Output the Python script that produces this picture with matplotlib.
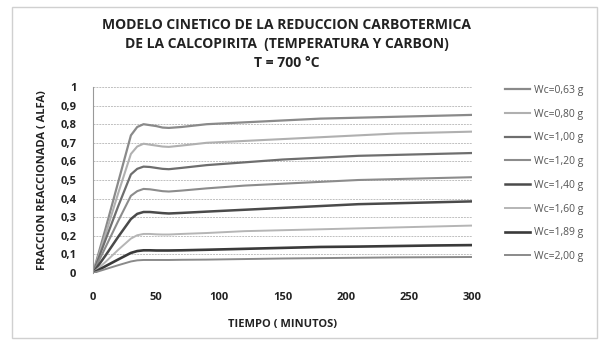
import matplotlib
matplotlib.use("Agg")
import matplotlib.pyplot as plt
from matplotlib.patches import Rectangle

plt.rcParams['font.family'] = ['Open Sans', 'DejaVu Sans']

tiempo = [0, 10, 20, 30, 35, 40, 45, 50, 55, 60, 70, 90, 120, 150, 180, 210, 240, 270, 300]
labels = ["Wc=0,63 g", "Wc=0,80 g", "Wc=1,00 g", "Wc=1,20 g",
          "Wc=1,40 g", "Wc=1,60 g", "Wc=1,89 g", "Wc=2,00 g"]
wc063 = [0, 0.24, 0.49, 0.74, 0.785, 0.80, 0.795, 0.79, 0.782, 0.78, 0.785, 0.80, 0.81, 0.82, 0.83, 0.835, 0.84, 0.845, 0.85]
wc080 = [0, 0.21, 0.43, 0.64, 0.68, 0.695, 0.69, 0.685, 0.68, 0.678, 0.685, 0.70, 0.71, 0.72, 0.73, 0.74, 0.75, 0.755, 0.76]
wc100 = [0, 0.18, 0.36, 0.53, 0.56, 0.572, 0.57, 0.565, 0.56, 0.558, 0.565, 0.58, 0.595, 0.61, 0.62, 0.63, 0.635, 0.64, 0.645]
wc120 = [0, 0.14, 0.28, 0.415, 0.44, 0.452, 0.45, 0.445, 0.44, 0.438, 0.443, 0.455, 0.47, 0.48, 0.49, 0.50, 0.505, 0.51, 0.515]
wc140 = [0, 0.095, 0.195, 0.29, 0.318, 0.328, 0.328, 0.325, 0.322, 0.32, 0.323, 0.33, 0.34, 0.35, 0.36, 0.37, 0.375, 0.38, 0.385]
wc160 = [0, 0.06, 0.125, 0.185, 0.203, 0.21, 0.21, 0.208, 0.207, 0.207, 0.21, 0.215, 0.225, 0.23, 0.235, 0.24, 0.245, 0.25, 0.255]
wc189 = [0, 0.037, 0.073, 0.108, 0.118, 0.122, 0.122, 0.121, 0.121, 0.121, 0.122, 0.125, 0.13, 0.135, 0.14, 0.142, 0.145, 0.148, 0.15]
wc200 = [0, 0.021, 0.042, 0.062, 0.068, 0.07, 0.07, 0.07, 0.07, 0.07, 0.071, 0.072, 0.075, 0.078, 0.08, 0.082, 0.084, 0.085, 0.086]
series = [wc063, wc080, wc100, wc120, wc140, wc160, wc189, wc200]
yticks = [0, 0.1, 0.2, 0.3, 0.4, 0.5, 0.6, 0.7, 0.8, 0.9, 1]
ytick_labels = ["0", "0,1", "0,2", "0,3", "0,4", "0,5", "0,6", "0,7", "0,8", "0,9", "1"]
xticks = [0, 50, 100, 150, 200, 250, 300]

colors = ["#8a8a8a", "#b0b0b0", "#6e6e6e", "#8c8c8c", "#4a4a4a", "#b5b5b5", "#3a3a3a", "#8a8a8a"]
widths = [1.6, 1.5, 1.6, 1.5, 1.8, 1.4, 1.9, 1.4]

fig = plt.figure(figsize=(6.05, 3.44), dpi=100)
fig.patch.set_facecolor("white")
fig.add_artist(Rectangle((12/605, 6/344), 585/605, 331/344, transform=fig.transFigure,
                         fill=False, edgecolor="#d0d0d0", linewidth=1.0))

ax = fig.add_axes([93/605, 1 - 273/344, 379/605, 186/344])
for y, lab, c, w in zip(series, labels, colors, widths):
    ax.plot(tiempo, y, color=c, linewidth=w, label=lab, solid_joinstyle="round")

ax.set_xlim(0, 300)
ax.set_ylim(0, 1)
ax.set_xticks(xticks)
ax.set_yticks(yticks)
ax.set_yticklabels(ytick_labels)
ax.grid(axis="y", color="#c0c0c0", linestyle=(0, (2, 1)), linewidth=0.7)
ax.set_axisbelow(True)
for s in ["top", "right", "bottom"]:
    ax.spines[s].set_visible(False)
ax.spines["left"].set_color("#999999")
ax.spines["left"].set_linewidth(0.8)
ax.tick_params(axis="both", length=0, labelsize=8, colors="#222222")
ax.tick_params(axis="x", pad=14)
ax.tick_params(axis="y", pad=12)
for t in ax.get_xticklabels() + ax.get_yticklabels():
    t.set_fontweight("bold")

ax.set_xlabel("TIEMPO ( MINUTOS)", fontsize=8, fontweight="bold", color="#222222", labelpad=11)
ax.set_ylabel("FRACCION REACCIONADA ( ALFA)", fontsize=8, fontweight="bold", color="#222222", labelpad=9)

fig.text(0.474, 1 - 44/344, "MODELO CINETICO DE LA REDUCCION CARBOTERMICA\nDE LA CALCOPIRITA  (TEMPERATURA Y CARBON)\nT = 700 \u00b0C",
         ha="center", va="center", fontsize=10, fontweight="bold", color="#222222", linespacing=1.45)

leg = ax.legend(loc="upper left", bbox_to_anchor=(505/605, 1 - 85/344), bbox_transform=fig.transFigure,
                frameon=False, fontsize=7.5, handlelength=2.4, handletextpad=0.4,
                labelspacing=1.22, borderaxespad=0, borderpad=0)
for t in leg.get_texts():
    t.set_color("#555555")

fig.savefig("out.png", dpi=100, facecolor="white")
